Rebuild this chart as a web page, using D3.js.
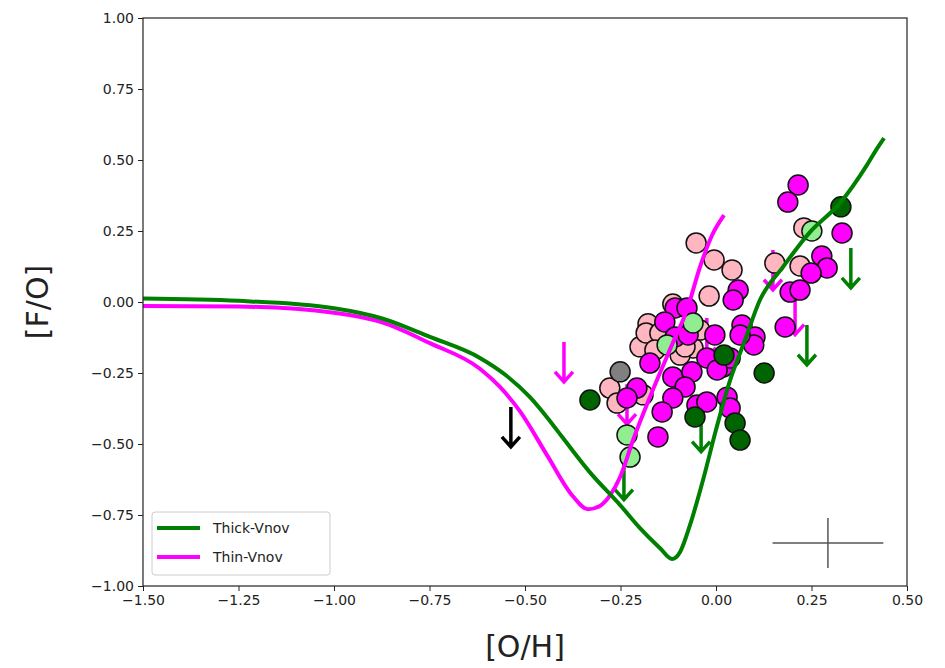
<!DOCTYPE html>
<html><head><meta charset="utf-8">
<script src="https://cdn.jsdelivr.net/npm/d3@7"></script>
<style>body{margin:0;background:#fff}svg{display:block}text{font-family:"DejaVu Sans",sans-serif}</style>
</head><body><svg id="c" width="945" height="668"></svg>
<script>
const xTicks=[-1.5,-1.25,-1.0,-0.75,-0.5,-0.25,0.0,0.25,0.5];
const yTicks=[-1.0,-0.75,-0.5,-0.25,0.0,0.25,0.5,0.75,1.0];
const thickX=[-1.5,-1.25,-1.0,-0.874,-0.749,-0.618,-0.55,-0.487,-0.44,-0.40,-0.33,-0.251,-0.199,-0.147,-0.115,-0.094,-0.068,-0.034,0.0,0.037,0.076,0.115,0.175,0.246,0.325,0.395,0.419,0.44];
const thickY=[0.012,0.004,-0.022,-0.058,-0.123,-0.197,-0.258,-0.335,-0.41,-0.48,-0.60,-0.715,-0.796,-0.866,-0.905,-0.88,-0.785,-0.627,-0.45,-0.275,-0.134,0.007,0.123,0.246,0.349,0.482,0.535,0.577];
const thinX=[-1.5,-1.25,-1.0,-0.874,-0.749,-0.618,-0.565,-0.513,-0.442,-0.374,-0.335,-0.304,-0.277,-0.251,-0.217,-0.173,-0.113,-0.076,-0.042,-0.010,0.021];
const thinY=[-0.014,-0.016,-0.038,-0.072,-0.145,-0.235,-0.30,-0.385,-0.54,-0.685,-0.73,-0.718,-0.68,-0.616,-0.486,-0.335,-0.144,-0.028,0.123,0.236,0.306];
const pinkX=[-0.052,-0.005,0.042,-0.018,-0.113,-0.178,-0.199,-0.183,-0.278,-0.259,-0.191,-0.147,-0.060,0.154,0.220,0.230,-0.042,-0.094,-0.160,-0.081];
const pinkY=[0.208,0.148,0.113,0.021,-0.007,-0.077,-0.158,-0.109,-0.303,-0.356,-0.327,-0.109,-0.162,0.137,0.127,0.261,-0.099,-0.187,-0.169,-0.158];
const magX=[0.215,0.188,0.330,0.277,0.291,0.249,0.194,0.220,0.181,0.058,0.045,0.068,-0.003,0.102,-0.107,-0.076,-0.134,-0.107,-0.073,0.099,-0.173,-0.113,-0.063,-0.024,-0.081,0.018,0.037,-0.207,-0.233,-0.113,-0.141,-0.050,-0.024,0.029,0.037,-0.152,0.003,0.063];
const magY=[0.412,0.352,0.243,0.162,0.120,0.102,0.035,0.042,-0.088,0.042,0.007,-0.081,-0.116,-0.123,-0.021,-0.021,-0.070,-0.123,-0.116,-0.151,-0.215,-0.264,-0.246,-0.197,-0.299,-0.229,-0.197,-0.303,-0.338,-0.338,-0.387,-0.363,-0.352,-0.335,-0.373,-0.475,-0.239,-0.116];
const dgreenX=[-0.330,-0.055,0.050,0.063,0.126,0.327,0.021];
const dgreenY=[-0.345,-0.405,-0.426,-0.486,-0.250,0.335,-0.187];
const lgreenX=[-0.233,-0.225,0.251,-0.128,-0.060];
const lgreenY=[-0.468,-0.546,0.250,-0.151,-0.074];
const greyX=[-0.251];
const greyY=[-0.246];
const arrowX=[-0.537,-0.398,-0.233,-0.024,0.149,0.207,0.353,0.238,-0.039,-0.241];
const arrowY=[-0.370,-0.141,-0.29,-0.056,0.183,0.025,0.190,-0.081,-0.387,-0.556];
const arrowC=["black","#ff00ff","#ff00ff","#ff00ff","#ff00ff","#ff00ff","#008000","#008000","#008000","#008000"];
const errX=[0.293], errY=[-0.849], errDX=[0.145], errDY=[0.088];
const legendLabels=["Thick-Vnov","Thin-Vnov"];
const legendColors=["#008000","#ff00ff"];

const svg=d3.select("#c");
const L=143,R=907,T=18,B=586;
const x=d3.scaleLinear().domain([-1.5,0.5]).range([L,R]);
const y=d3.scaleLinear().domain([-1,1]).range([B,T]);
const fmt=d=>d3.format(".2f")(d).replace("-","\u2212");

const gx=svg.append("g").attr("transform",`translate(0,${B})`).call(d3.axisBottom(x).tickValues(xTicks).tickFormat(fmt).tickSize(5).tickPadding(4));
const gy=svg.append("g").attr("transform",`translate(${L},0)`).call(d3.axisLeft(y).tickValues(yTicks).tickFormat(fmt).tickSize(5).tickPadding(4));
[gx,gy].forEach(g=>{g.select(".domain").remove();g.selectAll("text").attr("font-size",14).attr("fill","#222").attr("font-family","DejaVu Sans");g.selectAll("line").attr("stroke","#222");});

svg.append("clipPath").attr("id","cp").append("rect").attr("x",L).attr("y",T).attr("width",R-L).attr("height",B-T);
const plot=svg.append("g").attr("clip-path","url(#cp)");

const alen=0.14;
arrowX.forEach((ax,i)=>{
  const px=x(ax),py0=y(arrowY[i]),py1=y(arrowY[i]-alen);
  plot.append("path").attr("d",`M${px},${py0}L${px},${py1}M${px-9},${py1-10}L${px},${py1}L${px+9},${py1-10}`)
   .attr("fill","none").attr("stroke",arrowC[i]).attr("stroke-width",3.5);
});

function pts(xs,ys,col){
  plot.append("g").selectAll("circle").data(xs.map((v,i)=>[v,ys[i]])).join("circle")
   .attr("cx",d=>x(d[0])).attr("cy",d=>y(d[1])).attr("r",10)
   .attr("fill",col).attr("stroke","#111").attr("stroke-width",1.5);
}
pts(pinkX,pinkY,"#ffb6c1");
pts(magX,magY,"#ff00ff");
pts(dgreenX,dgreenY,"#006400");
pts(lgreenX,lgreenY,"#90ee90");
pts(greyX,greyY,"#808080");

const line=d3.line().x(d=>x(d[0])).y(d=>y(d[1])).curve(d3.curveMonotoneX);
plot.append("path").attr("d",line(thinX.map((v,i)=>[v,thinY[i]]))).attr("fill","none").attr("stroke","#ff00ff").attr("stroke-width",4);
plot.append("path").attr("d",line(thickX.map((v,i)=>[v,thickY[i]]))).attr("fill","none").attr("stroke","#008000").attr("stroke-width",4);

plot.append("line").attr("x1",x(errX[0]-errDX[0])).attr("x2",x(errX[0]+errDX[0])).attr("y1",y(errY[0])).attr("y2",y(errY[0])).attr("stroke","#555").attr("stroke-width",1.5);
plot.append("line").attr("x1",x(errX[0])).attr("x2",x(errX[0])).attr("y1",y(errY[0]-errDY[0])).attr("y2",y(errY[0]+errDY[0])).attr("stroke","#555").attr("stroke-width",1.5);

svg.append("rect").attr("x",L).attr("y",T).attr("width",R-L).attr("height",B-T).attr("fill","none").attr("stroke","#222").attr("stroke-width",1.2);

const lg=svg.append("g");
lg.append("rect").attr("x",152).attr("y",512).attr("width",178).attr("height",63).attr("rx",3).attr("fill","#fff").attr("fill-opacity",0.8).attr("stroke","#ccc");
legendLabels.forEach((t,i)=>{
  const yy=528+i*29;
  lg.append("line").attr("x1",157).attr("x2",200).attr("y1",yy).attr("y2",yy).attr("stroke",legendColors[i]).attr("stroke-width",4);
  lg.append("text").attr("x",213).attr("y",yy+5).attr("font-size",14).attr("fill","#222").text(t);
});

svg.append("text").attr("x",525).attr("y",657).attr("text-anchor","middle").attr("font-size",30).attr("fill","#222").text("[O/H]");
svg.append("text").attr("transform","translate(48,302) rotate(-90)").attr("text-anchor","middle").attr("font-size",30).attr("fill","#222").text("[F/O]");
</script></body></html>
